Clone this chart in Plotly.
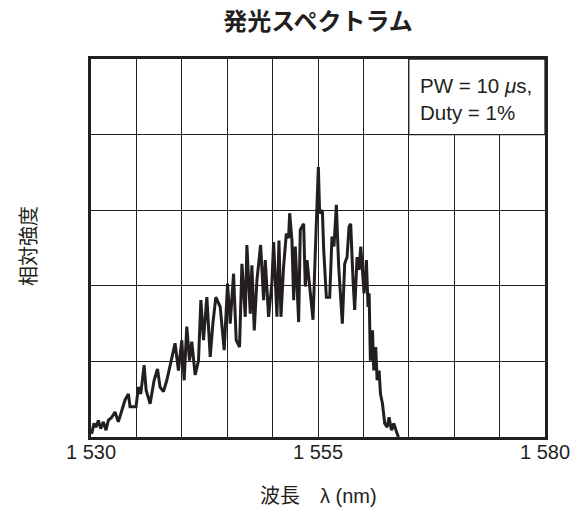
import plotly.graph_objects as go

# Wavelength (nm) and relative intensity (grid divisions, 0-5)
wavelength = [
    1530.07, 1530.33, 1530.55, 1530.81, 1531.07, 1531.36, 1531.65, 1531.91, 1532.28, 1532.65,
    1533.01, 1533.38, 1533.75, 1534.12, 1534.30, 1534.96, 1535.22, 1535.48, 1535.85, 1536.07,
    1536.51, 1536.95, 1537.32, 1537.61, 1537.98, 1538.35, 1538.79, 1539.26, 1539.63, 1540.00,
    1540.26, 1540.55, 1540.85, 1541.10, 1541.47, 1541.84, 1542.10, 1542.39, 1542.76, 1543.13,
    1543.42, 1543.75, 1544.23, 1544.67, 1545.04, 1545.33, 1545.70, 1545.99, 1546.36, 1546.62,
    1546.99, 1547.17, 1547.54, 1547.72, 1547.98, 1548.27, 1548.68, 1549.01, 1549.19, 1549.56,
    1549.93, 1550.11, 1550.48, 1550.70, 1550.92, 1551.21, 1551.51, 1551.76, 1551.88, 1552.13,
    1552.32, 1552.50, 1552.87, 1553.05, 1553.42, 1553.60, 1553.79, 1554.15, 1554.45, 1554.71,
    1554.89, 1555.04, 1555.18, 1555.48, 1555.63, 1555.92, 1556.29, 1556.54, 1556.76, 1557.02,
    1557.28, 1557.46, 1557.68, 1557.94, 1558.20, 1558.42, 1558.60, 1558.86, 1559.04, 1559.30,
    1559.52, 1559.71, 1559.89, 1560.07, 1560.33, 1560.51, 1560.63, 1560.77, 1561.00, 1561.14,
    1561.36, 1561.51, 1561.73, 1561.88, 1562.10, 1562.24, 1562.35, 1562.61, 1562.83, 1563.09,
    1563.35, 1563.64, 1563.86,
]
intensity = [
    0.04, 0.18, 0.13, 0.22, 0.11, 0.20, 0.09, 0.22, 0.26, 0.33,
    0.20, 0.35, 0.49, 0.57, 0.40, 0.40, 0.66, 0.57, 0.95, 0.62,
    0.44, 0.75, 0.90, 0.66, 0.60, 0.75, 1.01, 1.24, 0.88, 1.28,
    0.75, 1.46, 1.01, 1.26, 0.82, 1.01, 1.81, 1.28, 1.85, 1.06,
    1.50, 1.85, 1.72, 1.15, 2.03, 1.50, 2.16, 1.28, 1.19, 2.29,
    1.59, 2.54, 1.63, 2.27, 1.41, 2.07, 2.54, 1.81, 2.34, 1.59,
    2.05, 2.58, 1.59, 2.60, 1.59, 2.25, 2.69, 2.63, 2.96, 2.60,
    1.81, 2.52, 1.52, 2.74, 2.82, 1.99, 2.34, 1.85, 1.55, 2.47,
    3.00, 3.57, 2.96, 3.00, 2.47, 1.85, 1.85, 2.65, 2.52, 3.07,
    2.25, 1.85, 1.50, 2.29, 2.38, 2.78, 2.82, 2.07, 1.68, 2.38,
    2.21, 2.52, 2.16, 1.90, 2.34, 1.72, 1.90, 1.01, 1.41, 0.88,
    1.19, 0.75, 0.88, 0.57, 0.44, 0.26, 0.18, 0.13, 0.26, 0.09,
    0.18, 0.07, 0.00,
]

x_tickvals = [1530, 1535, 1540, 1545, 1550, 1555, 1560, 1565, 1570, 1575, 1580]
x_ticktext = ["1 530", "", "", "", "", "1 555", "", "", "", "", "1 580"]
y_tickvals = [0, 1, 2, 3, 4, 5]

title_text = "発光スペクトラム"
x_title = "波長\u3000λ (nm)"
y_title = "相対強度"
note_text = "PW = 10 <i>μ</i>s,<br>Duty = 1%"

LAT = "Liberation Sans, Arial, Noto Sans CJK JP, sans-serif"
CJK = "Noto Sans CJK JP, sans-serif"
INK = "#231f20"

fig = go.Figure()
fig.add_trace(go.Scatter(
    x=wavelength, y=intensity, mode="lines",
    line=dict(color=INK, width=3), hoverinfo="skip", showlegend=False,
))

fig.update_layout(
    width=583, height=508,
    margin=dict(l=91, r=38, t=59, b=71),
    paper_bgcolor="white", plot_bgcolor="white",
    title=dict(text=title_text, x=318 / 583, xref="container", xanchor="center",
               y=1 - 21.7 / 508, yref="container", yanchor="middle",
               font=dict(family=CJK, size=24, color=INK, weight="bold")),
    xaxis=dict(range=[1530, 1580], tickvals=x_tickvals, ticktext=x_ticktext,
               showgrid=True, gridcolor=INK, gridwidth=1.3, zeroline=False,
               showline=True, linecolor=INK, linewidth=2.5, mirror=True,
               ticks="", ticklen=0, ticklabelstandoff=-5,
               tickfont=dict(family=LAT, size=20, color=INK), fixedrange=True),
    yaxis=dict(range=[0, 5], tickvals=y_tickvals, showticklabels=False,
               showgrid=True, gridcolor=INK, gridwidth=1.3, zeroline=False,
               showline=True, linecolor=INK, linewidth=2.5, mirror=True,
               ticks="", fixedrange=True),
    shapes=[dict(type="rect", xref="x", yref="y", x0=1565, x1=1580, y0=4, y1=5,
                 fillcolor="white", line=dict(color=INK, width=1.3), layer="above")],
    annotations=[
        dict(text=note_text, x=1565, y=4.47, xref="x", yref="y", xanchor="left",
             yanchor="middle", xshift=9, align="left", showarrow=False,
             font=dict(family=LAT, size=20.5, color=INK)),
        dict(text=x_title, x=0.5, y=0, xref="paper", yref="paper", xanchor="center",
             yanchor="middle", yshift=-59, showarrow=False,
             font=dict(family=LAT, size=20, color=INK)),
        dict(text=y_title, x=0, y=0.5, xref="paper", yref="paper", xanchor="center",
             yanchor="middle", xshift=-63.5, yshift=1.5, textangle=-90, showarrow=False,
             font=dict(family=CJK, size=20, color=INK)),
    ],
)

fig.write_html("out.html", config={"displayModeBar": False},
               post_script="document.body.style.margin='0px';")
